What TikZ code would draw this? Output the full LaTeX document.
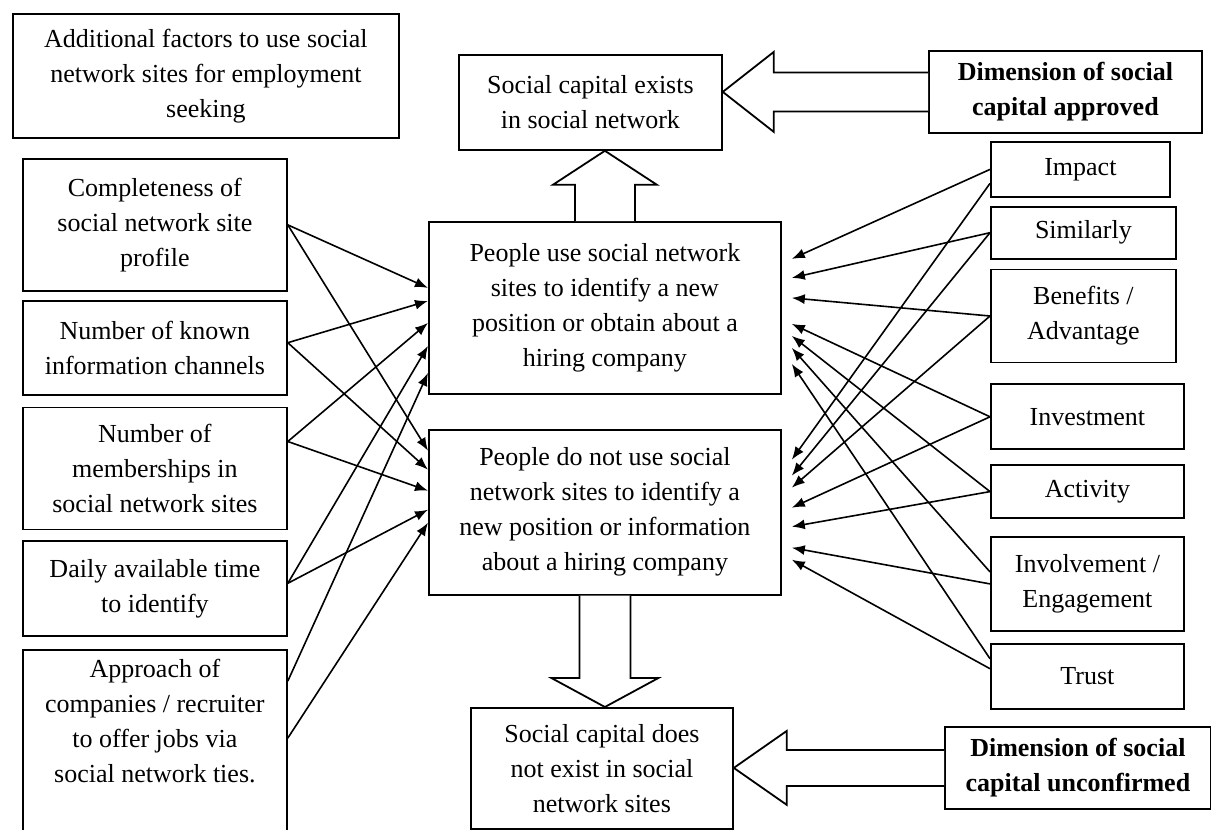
\documentclass[tikz,border=0pt]{standalone}
\usepackage{fontspec}
\setmainfont{Liberation Serif}
\usetikzlibrary{arrows.meta,positioning,calc}
\tikzset{
    box/.style={draw, line width=0.9pt, align=center, inner sep=2pt, font=\fontsize{13pt}{17.5pt}\selectfont},
    dimbox/.style={box, font=\fontsize{13pt}{17.5pt}\selectfont\bfseries},
    conn/.style={-{Latex[length=6.5pt, width=5pt]}, line width=0.8pt},
    fat/.style={draw, fill=white, line width=0.9pt, line join=miter}
}

\begin{document}
\begin{tikzpicture}[x=0.5pt, y=-0.5pt]
    \useasboundingbox (0,0) rectangle (1211,830);

    % left column: additional factors
    \node[box, anchor=north west, minimum width=193pt, minimum height=62pt] (additional) at (12,13) {Additional factors to use social\\network sites for employment\\seeking};
    \node[box, anchor=north west, minimum width=132pt, minimum height=66pt] (completeness) at (22,158) {Completeness of\\social network site\\profile};
    \node[box, below=4pt of completeness, minimum width=132pt, minimum height=47pt] (known) {Number of known\\information channels};
    \node[box, below=5.5pt of known, minimum width=132pt, minimum height=61pt] (memberships) {Number of\\memberships in\\social network sites};
    \node[box, below=5pt of memberships, minimum width=132pt, minimum height=47.5pt] (daily) {Daily available time\\to identify};
    \node[box, below=6pt of daily, minimum width=132pt, minimum height=93pt] (approach) {Approach of\\companies / recruiter\\to offer jobs via\\social network ties.\\ \strut};

    % middle column
    \node[box, anchor=north west, minimum width=131.5pt, minimum height=47.5pt] (exists) at (458,54) {Social capital exists\\in social network};
    \node[box, anchor=north west, minimum width=176pt, minimum height=86pt] (use) at (428,221) {People use social network\\sites to identify a new\\position or obtain about a\\hiring company};
    \node[box, below=17pt of use, minimum width=176pt, minimum height=82.5pt] (not) {People do not use social\\network sites to identify a\\new position or information\\about a hiring company};
    \node[box, anchor=north west, minimum width=131pt, minimum height=60.5pt] (notexist) at (470,707) {Social capital does\\not exist in social\\network sites};

    % right column: dimensions
    \node[dimbox, anchor=north west, minimum width=136.5pt, minimum height=41pt] (approved) at (928,50) {Dimension of social\\capital approved};
    \node[dimbox, anchor=north west, minimum width=133pt, minimum height=41pt] (unconfirmed) at (944,726) {Dimension of social\\capital unconfirmed};

    \node[box, anchor=north west, minimum width=89.5pt, minimum height=27.5pt] (impact) at (990,141) {Impact};
    \node[box, below=4pt of impact.south west, anchor=north west, minimum width=92.5pt, minimum height=26pt] (similarly) {Similarly};
    \node[box, below=4.5pt of similarly.south west, anchor=north west, minimum width=92.5pt, minimum height=46.5pt] (benefits) {Benefits /\\Advantage};
    \node[box, below=10pt of benefits.south west, anchor=north west, minimum width=96.5pt, minimum height=32.5pt] (investment) {Investment};
    \node[box, below=7pt of investment.south west, anchor=north west, minimum width=96.5pt, minimum height=26.5pt] (activity) {Activity};
    \node[box, below=8.5pt of activity.south west, anchor=north west, minimum width=96.5pt, minimum height=47pt] (involvement) {Involvement /\\Engagement};
    \node[box, below=5.5pt of involvement.south west, anchor=north west, minimum width=96.5pt, minimum height=32.5pt] (trust) {Trust};

    % block arrows
    \coordinate (tipA) at (exists.east |- approved.west);
    \coordinate (tipB) at (use.north |- exists.south);
    \coordinate (tipC) at (not.south |- notexist.north);
    \coordinate (tipD) at (notexist.east |- unconfirmed.west);

    \draw[fat] ([yshift=9.75pt]approved.west) -- ($(tipA)+(25.5pt,9.75pt)$) -- ($(tipA)+(25.5pt,20pt)$) -- (tipA)
        -- ($(tipA)+(25.5pt,-20pt)$) -- ($(tipA)+(25.5pt,-9.75pt)$) -- ([yshift=-9.75pt]approved.west);
    \draw[fat] ([xshift=-15pt]use.north) -- ($(tipB)+(-15pt,-17pt)$) -- ($(tipB)+(-26pt,-17pt)$) -- (tipB)
        -- ($(tipB)+(26pt,-17pt)$) -- ($(tipB)+(15pt,-17pt)$) -- ([xshift=15pt]use.north);
    \draw[fat] ([xshift=-12.75pt]not.south) -- ($(tipC)+(-12.75pt,14.5pt)$) -- ($(tipC)+(-26.75pt,14.5pt)$) -- (tipC)
        -- ($(tipC)+(26.75pt,14.5pt)$) -- ($(tipC)+(12.75pt,14.5pt)$) -- ([xshift=12.75pt]not.south);
    \draw[fat] ([yshift=9pt]unconfirmed.west) -- ($(tipD)+(26.5pt,9pt)$) -- ($(tipD)+(26.5pt,18.5pt)$) -- (tipD)
        -- ($(tipD)+(26.5pt,-18.5pt)$) -- ($(tipD)+(26.5pt,-9pt)$) -- ([yshift=-9pt]unconfirmed.west);

    % factors into the two groups
    \draw[conn] (completeness.east) -- ([yshift=10pt]use.west);
    \draw[conn] (completeness.east) -- ([yshift=30.75pt]not.west);
    \draw[conn] ([yshift=2.5pt]known.east) -- ([yshift=3.5pt]use.west);
    \draw[conn] ([yshift=2.5pt]known.east) -- ([yshift=21.25pt]not.west);
    \draw[conn] ([yshift=13.5pt]memberships.east) -- ([yshift=-7.5pt]use.west);
    \draw[conn] ([yshift=13.5pt]memberships.east) -- ([yshift=10.75pt]not.west);
    \draw[conn] ([yshift=2.75pt]daily.east) -- ([yshift=-19pt]use.west);
    \draw[conn] ([yshift=2.75pt]daily.east) -- ([yshift=1.25pt]not.west);
    \draw[conn] ([yshift=31pt]approach.east) -- ([yshift=-32.5pt]use.west);
    \draw[conn] ([yshift=2.5pt]approach.east) -- ([yshift=-5.25pt]not.west);

    % dimensions into the two groups
    \draw[conn] (impact.west) -- ([xshift=5pt,yshift=24.5pt]use.east);
    \draw[conn] ([yshift=-7pt]impact.west) -- ([xshift=5pt,yshift=26.25pt]not.east);
    \draw[conn] (similarly.west) -- ([xshift=5pt,yshift=15pt]use.east);
    \draw[conn] (similarly.west) -- ([xshift=5pt,yshift=18.25pt]not.east);
    \draw[conn] (benefits.west) -- ([xshift=5pt,yshift=5pt]use.east);
    \draw[conn] (benefits.west) -- ([xshift=5pt,yshift=12.25pt]not.east);
    \draw[conn] (investment.west) -- ([xshift=5pt,yshift=-8pt]use.east);
    \draw[conn] (investment.west) -- ([xshift=5pt,yshift=2.25pt]not.east);
    \draw[conn] (activity.west) -- ([xshift=5pt,yshift=-14pt]use.east);
    \draw[conn] (activity.west) -- ([xshift=5pt,yshift=-7.25pt]not.east);
    \draw[conn] ([yshift=6pt]involvement.west) -- ([xshift=5pt,yshift=-20pt]use.east);
    \draw[conn] (involvement.west) -- ([xshift=5pt,yshift=-17.75pt]not.east);
    \draw[conn] ([yshift=8.75pt]trust.west) -- ([xshift=5pt,yshift=-28pt]use.east);
    \draw[conn] ([yshift=3.75pt]trust.west) -- ([xshift=5pt,yshift=-23.75pt]not.east);
\end{tikzpicture}
\end{document}
